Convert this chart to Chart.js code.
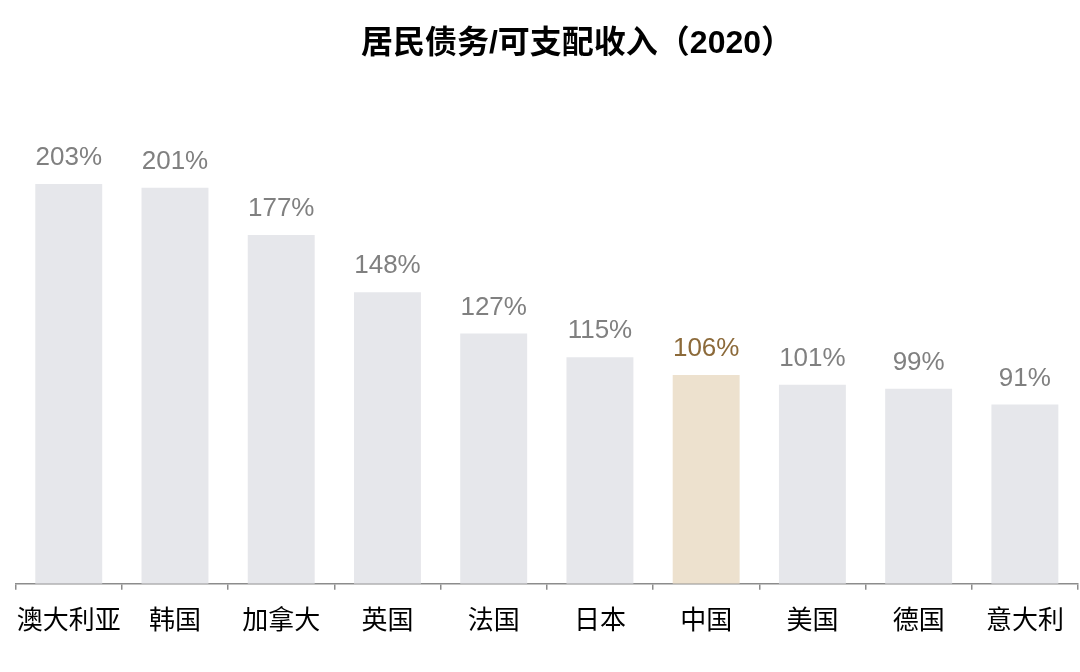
<!DOCTYPE html>
<html>
<head>
<meta charset="utf-8">
<script src="https://cdn.jsdelivr.net/npm/chart.js@4"></script>
<style>
  html, body { margin: 0; padding: 0; background: #fff; }
  #wrap { width: 1080px; height: 672px; }
</style>
</head>
<body>
<div id="wrap"><canvas id="barChart" width="1080" height="672"></canvas></div>
<script>
// dữ liệu
const countries = ["澳大利亚", "韩国", "加拿大", "英国", "法国", "日本", "中国", "美国", "德国", "意大利"];
const debtRatio = [203, 201, 177, 148, 127, 115, 106, 101, 99, 91];
const highlight = "中国";
const chartTitle = "居民债务/可支配收入（2020）";

const FONT = "'Liberation Sans', 'Noto Sans CJK SC', sans-serif";

const barColors = countries.map(c => c === highlight ? "#EDE1CE" : "#E6E7EB");
const labelColors = countries.map(c => c === highlight ? "#8C6A3A" : "#808080");

const ctx = document.getElementById("barChart").getContext("2d");
new Chart(ctx, {
  type: "bar",
  data: {
    labels: countries,
    datasets: [{
      data: debtRatio,
      backgroundColor: barColors,
      borderWidth: 0,
      categoryPercentage: 1,
      barPercentage: 0.63,
    }],
  },
  options: {
    responsive: false,
    animation: false,
    layout: { padding: { left: 15, right: 2, top: 111, bottom: 19 } },
    plugins: {
      legend: { display: false },
      tooltip: { enabled: false },
    },
    scales: {
      x: {
        grid: { offset: true, drawOnChartArea: false, tickLength: 6, color: "#8c8c8c", lineWidth: 1.5 },
        border: { color: "#8c8c8c", width: 1.5 },
        ticks: {
          color: "#000",
          padding: 16,
          maxRotation: 0,
          minRotation: 0,
          autoSkip: false,
          font: { family: FONT, size: 26 },
        },
      },
      y: {
        display: false,
        min: 0,
        max: 240,
      },
    },
  },
  plugins: [
    {
      // tiêu đề, hơi lệch phải như bản gốc
      id: "titleText",
      afterDraw(chart) {
        const { ctx } = chart;
        ctx.save();
        ctx.font = "bold 32px " + FONT;
        ctx.fillStyle = "#000";
        ctx.textAlign = "center";
        ctx.textBaseline = "middle";
        ctx.fillText(chartTitle, 577, 44);
        ctx.restore();
      },
    },
    {
      id: "valueLabels",
      afterDatasetsDraw(chart) {
        const { ctx } = chart;
        const meta = chart.getDatasetMeta(0);
        ctx.save();
        ctx.font = "26px " + FONT;
        ctx.textAlign = "center";
        ctx.textBaseline = "middle";
        meta.data.forEach((bar, i) => {
          ctx.fillStyle = labelColors[i];
          ctx.fillText(debtRatio[i] + "%", bar.x, bar.y - 26);
        });
        ctx.restore();
      },
    },
  ],
});
</script>
</body>
</html>
